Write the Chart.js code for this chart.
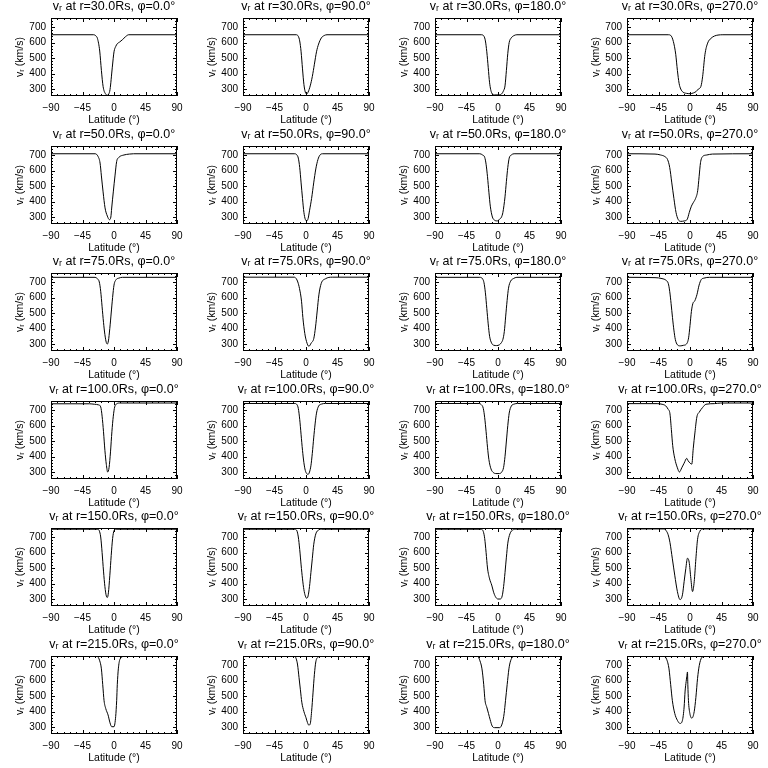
<!DOCTYPE html>
<html>
<head>
<meta charset="utf-8">
<script src="https://cdn.jsdelivr.net/npm/chart.js@4"></script>
<style>
html, body { margin: 0; padding: 0; background: #fff; }
#grid { position: relative; width: 768px; height: 768px; overflow: hidden; }
.panel { position: absolute; width: 192px; height: 128px; }
</style>
</head>
<body>
<div id="grid"></div>
<script>
// v_r profiles vs latitude, one list of [latitude, v_r] per panel
const radii = [30, 50, 75, 100, 150, 215];
const phis = [0, 90, 180, 270];
const xTicks = [-90, -45, 0, 45, 90];
const yTicks = [300, 400, 500, 600, 700];
const yMin = 255, yMax = 758;

const r30_p0 = [[-90,650],[-29,650],[-26,643],[-23.7,627],[-20.4,545],[-18,420],[-15.6,317],[-12,268],[-9.5,260],[-7.5,268],[-5.7,296],[-2.4,441],[0,540],[2.5,575],[4.7,592],[8,603],[11.8,617],[16.6,638],[21,650],[90,650]];
const r30_p90 = [[-90,650],[-14,650],[-11,640],[-9,610],[-7,540],[-5,430],[-3,330],[-1,280],[1,268],[3,280],[6,320],[9,380],[12,460],[15,540],[18,590],[22,630],[26,645],[30,650],[90,650]];
const r30_p180 = [[-90,650],[-24,650],[-20,640],[-18,610],[-16,540],[-14,440],[-12,340],[-9,275],[-5,262],[0,262],[5,268],[8,290],[10,320],[12,420],[14,530],[16,600],[19,630],[23,645],[27,650],[90,650]];
const r30_p270 = [[-90,650],[-31,650],[-27.6,646],[-23.8,607],[-20.4,524],[-18,420],[-15.6,337],[-13.2,300],[-10,280],[-5,272],[0,270],[5,275],[9,285],[12,300],[15.6,317],[18,379],[21.4,524],[25.2,596],[30,627],[35,642],[40,648],[47,650],[90,650]];

const r50_p0 = [[-90,708],[-27,708],[-22.7,690],[-19.9,648],[-18,565],[-15.6,462],[-12.8,359],[-9.5,306],[-6.5,283],[-4.5,300],[-3.3,358],[-1,462],[1.4,565],[3.8,658],[7.1,685],[14.2,700],[22,706],[28,708],[90,708]];
const r50_p90 = [[-90,708],[-16,708],[-13,700],[-11,680],[-9,620],[-7,520],[-5,420],[-3,330],[-1,285],[1,275],[3,290],[5,340],[8,420],[11,520],[14,610],[17,670],[20,700],[24,708],[90,708]];
const r50_p180 = [[-90,708],[-26,708],[-22,700],[-19,685],[-17,640],[-15,560],[-13,460],[-11,370],[-8,300],[-5,280],[-1,275],[2,285],[5,300],[7,330],[10,430],[12,530],[14,620],[16,680],[19,700],[23,708],[90,708]];
const r50_p270 = [[-90,708],[-50,706],[-42,700],[-36,690],[-32,670],[-29,620],[-26,520],[-23,420],[-20,330],[-17,285],[-13,272],[-8,275],[-4,285],[-1,330],[2,370],[5,395],[8,420],[11,470],[13,560],[15,650],[18,690],[24,700],[32,706],[90,708]];

const r75_p0 = [[-90,730],[-27,730],[-24,722],[-21,700],[-19,640],[-17,540],[-15,440],[-13,360],[-11,310],[-9.5,300],[-8,320],[-6,400],[-4,500],[-2,600],[0,680],[3,715],[7,725],[12,730],[90,730]];
const r75_p90 = [[-90,731],[-16.5,731],[-14,722],[-11.7,700],[-9.3,658],[-6.4,576],[-4.5,472],[-1.7,368],[0.7,317],[4.1,285],[7.4,306],[11.2,337],[13.6,410],[16,513],[18.4,617],[21.7,690],[27.9,721],[37.5,731],[90,731]];
const r75_p180 = [[-90,730],[-26,730],[-22,720],[-20,695],[-18,630],[-16,530],[-14,430],[-12,350],[-9,305],[-6,292],[-2,290],[2,295],[5,310],[7,330],[9,380],[11,480],[13,580],[15,660],[18,705],[22,722],[27,730],[90,730]];
const r75_p270 = [[-90,730],[-50,728],[-40,722],[-34,710],[-31,690],[-29,640],[-27,560],[-25,470],[-23,390],[-21,330],[-18,295],[-14,288],[-9,292],[-5,300],[-2,340],[0,420],[2,510],[4,560],[7,580],[10,620],[13,680],[16,715],[20,725],[28,730],[90,730]];

const r100_p0 = [[-90,740],[-35,740],[-28,737],[-22,733],[-19,720],[-17,660],[-15,560],[-13,440],[-11,350],[-9,300],[-7,330],[-5,430],[-3,560],[-1,660],[1,720],[4,740],[8,745],[90,745]];
const r100_p90 = [[-90,742],[-16,742],[-13,735],[-11,710],[-9,640],[-7,540],[-5,440],[-3,360],[-1,310],[1,290],[3,285],[5,300],[7,340],[9,420],[11,520],[13,610],[15,680],[18,725],[22,738],[28,742],[90,742]];
const r100_p180 = [[-90,742],[-27,742],[-24,735],[-21,710],[-19,650],[-17,560],[-15,460],[-13,380],[-10,320],[-7,298],[-3,290],[2,290],[5,298],[8,330],[10,400],[12,500],[14,600],[16,680],[19,725],[23,738],[28,742],[90,742]];
const r100_p270 = [[-90,741],[-47,741],[-40,737],[-34.8,727],[-31.4,706],[-28.6,675],[-26.6,573],[-24.7,470],[-21.8,388],[-18,327],[-15.1,300],[-11.8,327],[-8.4,357],[-4.6,388],[-2.6,372],[0.2,357],[2.6,351],[4.6,450],[7,552],[9.8,655],[13.2,686],[18,716],[22.8,737],[34.8,741],[44,745],[90,745]];

const r150_p0 = [[-90,750],[-23,750],[-21,740],[-19,700],[-17,600],[-15,480],[-13,380],[-11,320],[-9.5,310],[-8,340],[-6,450],[-4,580],[-2,690],[0,740],[3,750],[90,750]];
const r150_p90 = [[-90,750],[-16,750],[-13,740],[-11,700],[-9,620],[-7,520],[-5,430],[-3,360],[-1,320],[1,305],[3,320],[5,380],[7,470],[9,560],[11,650],[14,720],[18,745],[22,750],[90,750]];
const r150_p180 = [[-90,750],[-24,750],[-21,735],[-19,690],[-17,600],[-15,500],[-12,430],[-9,390],[-6,340],[-3,310],[0,300],[3,300],[6,320],[8,380],[10,470],[12,570],[14,660],[17,720],[21,745],[26,750],[90,750]];
const r150_p270 = [[-90,752],[-37,752],[-34,740],[-31.4,717],[-28.6,664],[-25.2,559],[-21.8,454],[-18,348],[-14.2,296],[-10.8,327],[-8.4,412],[-6,496],[-3.6,563],[-1.2,538],[1.2,433],[3.6,348],[6,412],[8.4,559],[10.8,685],[14.2,738],[18,752],[90,752]];

const r215_p0 = [[-90,755],[-24,755],[-20.4,727],[-18,675],[-16.1,573],[-14.2,470],[-11.8,419],[-8.5,378],[-5.7,327],[-3.3,302],[0,302],[2.4,368],[3.8,470],[4.7,573],[6.2,675],[8.5,737],[14,755],[76,755]];
const r215_p90 = [[-90,755],[-16,755],[-14,740],[-12,700],[-10,620],[-8,540],[-6,460],[-3,400],[0,360],[2,330],[4,312],[6,320],[8,400],[10,520],[12,640],[14,720],[17,750],[20,755],[76,755]];
const r215_p180 = [[-90,755],[-29,755],[-25.8,727],[-22.9,675],[-20.4,573],[-18.5,470],[-16.1,429],[-13.6,388],[-11.2,347],[-8.3,306],[-4.9,296],[2.4,296],[6.3,327],[8.8,388],[10.7,470],[13.1,573],[15.6,675],[18,727],[23,755],[76,755]];
const r215_p270 = [[-90,755],[-37,755],[-33.4,737],[-30,675],[-27.6,573],[-25.2,470],[-21.8,388],[-18,343],[-14.2,323],[-10.8,343],[-8.4,429],[-7,532],[-5.5,593],[-4.6,624],[-3.6,655],[-3.1,573],[-2.2,470],[-0.2,388],[2.6,357],[6,399],[8.4,491],[10.8,614],[13.2,696],[16.6,747],[20,755],[76,755]];

const curves = [
    [r30_p0, r30_p90, r30_p180, r30_p270],
    [r50_p0, r50_p90, r50_p180, r50_p270],
    [r75_p0, r75_p90, r75_p180, r75_p270],
    [r100_p0, r100_p90, r100_p180, r100_p270],
    [r150_p0, r150_p90, r150_p180, r150_p270],
    [r215_p0, r215_p90, r215_p180, r215_p270]
];

// box with inward ticks on all four sides plus the panel title (IDL style)
const idlFrame = {
    id: 'idlFrame',
    afterDraw(chart, args, opts) {
        const { ctx, chartArea: a, scales: { x, y } } = chart;
        ctx.save();
        ctx.strokeStyle = '#000';
        ctx.lineWidth = 1;
        ctx.strokeRect(a.left + 0.5, a.top + 0.5, a.right - a.left - 1, a.bottom - a.top - 1);
        ctx.beginPath();
        for (let v = -90; v <= 90; v += 9) {
            const px = Math.round(x.getPixelForValue(v)) + 0.5;
            const len = xTicks.includes(v) ? 4 : 2;
            ctx.moveTo(px, a.bottom); ctx.lineTo(px, a.bottom - len);
            ctx.moveTo(px, a.top); ctx.lineTo(px, a.top + len);
        }
        for (let v = 260; v <= 740; v += 20) {
            const py = Math.round(y.getPixelForValue(v)) + 0.5;
            const len = yTicks.includes(v) ? 4 : 2;
            ctx.moveTo(a.left, py); ctx.lineTo(a.left + len, py);
            ctx.moveTo(a.right, py); ctx.lineTo(a.right - len, py);
        }
        ctx.stroke();
        ctx.fillStyle = '#000';
        ctx.font = '12.5px "Liberation Sans", "DejaVu Sans"';
        ctx.textAlign = 'center';
        ctx.textBaseline = 'middle';
        ctx.fillText(opts.text, (a.left + a.right) / 2, 7);
        ctx.restore();
    }
};

const grid = document.getElementById('grid');

function makePanel(row, col) {
    const div = document.createElement('div');
    div.className = 'panel';
    div.style.left = (col * 192) + 'px';
    div.style.top = Math.round(row * 127.6) + 'px';
    const cv = document.createElement('canvas');
    cv.width = 192;
    cv.height = 128;
    div.appendChild(cv);
    grid.appendChild(div);
    const title = 'vᵣ at r=' + radii[row].toFixed(1) + 'Rs, φ=' + phis[col].toFixed(1) + '°';
    new Chart(cv, {
        type: 'line',
        data: {
            datasets: [{
                data: curves[row][col].map(p => ({ x: p[0], y: p[1] })),
                borderColor: '#000',
                borderWidth: 1,
                pointRadius: 0,
                fill: false,
                cubicInterpolationMode: 'monotone'
            }]
        },
        options: {
            responsive: false,
            animation: false,
            layout: { padding: { left: 0, right: 15, top: 18, bottom: 0 } },
            plugins: {
                legend: { display: false },
                tooltip: { enabled: false },
                idlFrame: { text: title }
            },
            scales: {
                x: {
                    type: 'linear',
                    min: -90,
                    max: 90,
                    afterFit: s => { s.height = 32; },
                    afterBuildTicks: s => { s.ticks = xTicks.map(v => ({ value: v })); },
                    grid: { display: false, drawTicks: false },
                    border: { display: false },
                    ticks: {
                        color: '#000',
                        padding: 6,
                        maxRotation: 0,
                        font: { family: '"Liberation Sans"', size: 10 },
                        callback: v => String(v).replace('-', '\u2212')
                    },
                    title: {
                        display: true,
                        text: 'Latitude (°)',
                        color: '#000',
                        padding: { top: 0, bottom: 2 },
                        font: { family: '"Liberation Sans"', size: 10.5 }
                    }
                },
                y: {
                    min: yMin,
                    max: yMax,
                    afterFit: s => { s.width = 51; },
                    afterBuildTicks: s => { s.ticks = yTicks.map(v => ({ value: v })); },
                    grid: { display: false, drawTicks: false },
                    border: { display: false },
                    ticks: {
                        color: '#000',
                        padding: 5,
                        font: { family: '"Liberation Sans"', size: 10 }
                    },
                    title: {
                        display: true,
                        text: 'vᵣ (km/s)',
                        color: '#000',
                        padding: { top: 14, bottom: 0 },
                        font: { family: '"Liberation Sans"', size: 10.5 }
                    }
                }
            }
        },
        plugins: [idlFrame]
    });
}

for (let r = 0; r < radii.length; r++) {
    for (let c = 0; c < phis.length; c++) {
        makePanel(r, c);
    }
}
</script>
</body>
</html>
